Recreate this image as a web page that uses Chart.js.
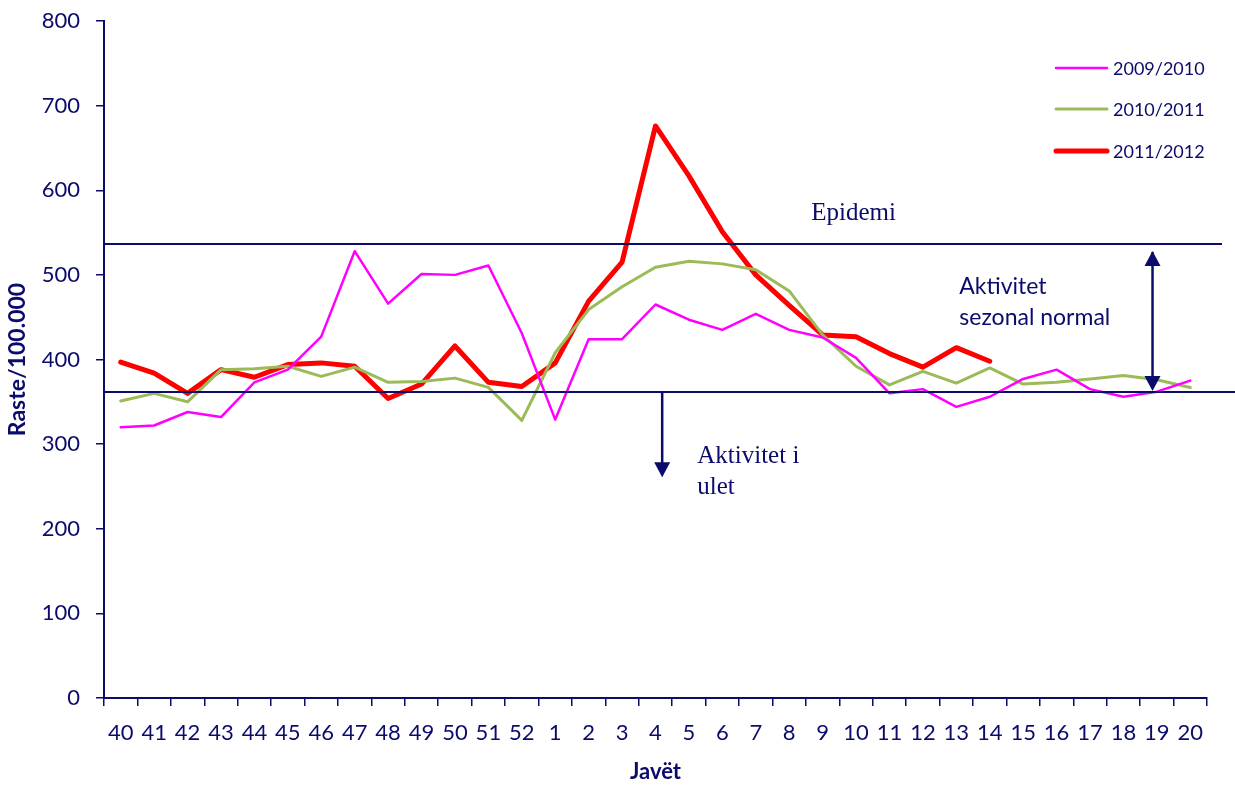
<!DOCTYPE html>
<html><head><meta charset="utf-8">
<script src="https://cdn.jsdelivr.net/npm/chart.js@4"></script>
<style>html,body{margin:0;padding:0;background:#fff}#wrap{width:1235px;height:785px;position:relative}</style>
</head><body><div id="wrap"><canvas id="c"></canvas></div>
<script>
// ---- data ----
const weeks = ['40','41','42','43','44','45','46','47','48','49','50','51','52','1','2','3','4','5','6','7','8','9','10','11','12','13','14','15','16','17','18','19','20'];
const season0910 = [320,322,338,332,373,388,427,528,466,501,500,511,431,329,424,424,465,447,435,454,435,426,402,360,365,344,356,377,388,365,356,362,375];
const season1011 = [351,360,350,388,389,392,380,391,373,374,378,367,328,408,459,486,509,516,513,506,481,429,392,370,386,372,390,371,373,377,381,376,367];
const season1112 = [397,384,360,388,379,394,396,392,354,371,416,373,368,396,469,515,676,617,551,500,464,429,427,407,391,414,398,null,null,null,null,null,null];
const seriesNames = ['2009/2010','2010/2011','2011/2012'];
const yMin = 0, yMax = 800, yStep = 100;
const epidemicThreshold = 536;
const seasonalThreshold = 362;
const axisTitleX = 'Javët';
const axisTitleY = 'Raste/100.000';

const NAVY = '#0b0b6b';
const FONT = 'Lato, "Open Sans", sans-serif';
const SERIF = '"Liberation Serif", "DejaVu Serif", serif';

const annotations = {
  id: 'annotations',
  afterDatasetsDraw(chart) {
    const ctx = chart.ctx, ca = chart.chartArea;
    const xs = chart.scales.x, ys = chart.scales.y;
    ctx.save();
    // threshold lines
    ctx.strokeStyle = NAVY; ctx.lineWidth = 2;
    const yE = Math.round(ys.getPixelForValue(epidemicThreshold));
    const yS = Math.round(ys.getPixelForValue(seasonalThreshold));
    ctx.beginPath(); ctx.moveTo(ca.left, yE); ctx.lineTo(ca.right + 15, yE); ctx.stroke();
    ctx.beginPath(); ctx.moveTo(ca.left, yS); ctx.lineTo(chart.width, yS); ctx.stroke();

    function head(x, y, dir) { // dir: -1 up, 1 down ; tip at (x,y)
      ctx.beginPath();
      ctx.moveTo(x, y);
      ctx.lineTo(x - 8, y - dir * 15);
      ctx.lineTo(x + 8, y - dir * 15);
      ctx.closePath(); ctx.fill();
    }
    ctx.fillStyle = NAVY;
    // double arrow
    const xa = xs.getPixelForValue(30.87);
    ctx.lineWidth = 2.5;
    ctx.beginPath(); ctx.moveTo(xa, yE + 8); ctx.lineTo(xa, yS - 8); ctx.stroke();
    head(xa, yE + 7, -1); head(xa, yS - 1, 1);
    // down arrow
    const xb = xs.getPixelForValue(16.2);
    const yb = ys.getPixelForValue(261);
    ctx.beginPath(); ctx.moveTo(xb, yS); ctx.lineTo(xb, yb - 8); ctx.stroke();
    head(xb, yb, 1);

    // texts
    ctx.fillStyle = NAVY; ctx.textAlign = 'left'; ctx.textBaseline = 'alphabetic';
    ctx.font = '25px ' + SERIF;
    ctx.fillText('Epidemi', xs.getPixelForValue(20.66), ys.getPixelForValue(565));
    ctx.fillText('Aktivitet i', xs.getPixelForValue(17.25), ys.getPixelForValue(278));
    ctx.fillText('ulet', xs.getPixelForValue(17.25), ys.getPixelForValue(241));
    ctx.font = '23px ' + FONT;
    ctx.fillText('Aktivitet', xs.getPixelForValue(25.09), ys.getPixelForValue(477));
    ctx.fillText('sezonal normal', xs.getPixelForValue(25.09), ys.getPixelForValue(441));

    // legend
    const ly = [68, 109, 151];
    ctx.font = '18px ' + FONT; ctx.textBaseline = 'middle';
    chart.data.datasets.forEach((ds, i) => {
      ctx.strokeStyle = ds.borderColor; ctx.lineWidth = ds.borderWidth; ctx.lineCap = 'round';
      ctx.beginPath(); ctx.moveTo(1056, ly[i]); ctx.lineTo(1107, ly[i]); ctx.stroke();
      ctx.fillStyle = NAVY;
      ctx.fillText(ds.label, 1113, ly[i] + 1);
    });
    ctx.restore();
  }
};

new Chart(document.getElementById('c'), {
  type: 'line',
  data: {
    labels: weeks,
    datasets: [
      {label: seriesNames[0], data: season0910, borderColor: '#ff00ff', borderWidth: 2.5},
      {label: seriesNames[1], data: season1011, borderColor: '#9bbb59', borderWidth: 3},
      {label: seriesNames[2], data: season1112, borderColor: '#ff0000', borderWidth: 5}
    ].map(d => Object.assign(d, {pointRadius: 0, pointHoverRadius: 0, tension: 0, fill: false,
      borderJoinStyle: 'round', borderCapStyle: 'round', spanGaps: false}))
  },
  options: {
    responsive: true, maintainAspectRatio: false, animation: false, devicePixelRatio: 1,
    layout: {padding: {top: 21, right: 28, left: 0, bottom: 0}},
    plugins: {legend: {display: false}, tooltip: {enabled: false}},
    scales: {
      x: {
        offset: true,
        grid: {offset: true, drawOnChartArea: false, drawTicks: true, tickLength: 8, color: NAVY, lineWidth: 1.5},
        border: {color: NAVY, width: 2},
        ticks: {color: NAVY, font: {family: FONT, size: 22}, padding: 14, maxRotation: 0, autoSkip: false},
        title: {display: true, text: axisTitleX, color: NAVY, font: {family: FONT, size: 22, weight: 'bold'}, padding: {top: 0, bottom: 0}},
        afterFit: s => { s.height = 87; }
      },
      y: {
        min: yMin, max: yMax,
        grid: {drawOnChartArea: false, drawTicks: true, tickLength: 8, color: NAVY, lineWidth: 1.5},
        border: {color: NAVY, width: 2},
        ticks: {stepSize: yStep, color: NAVY, font: {family: FONT, size: 22}, padding: 16},
        title: {display: true, text: axisTitleY, color: NAVY, font: {family: FONT, size: 23, weight: 'bold'}, padding: {top: 4, bottom: 0}},
        afterFit: s => { s.width = 104; s.paddingTop = 0; s.paddingBottom = 0; }
      }
    }
  },
  plugins: [annotations]
});
</script>
</body></html>
